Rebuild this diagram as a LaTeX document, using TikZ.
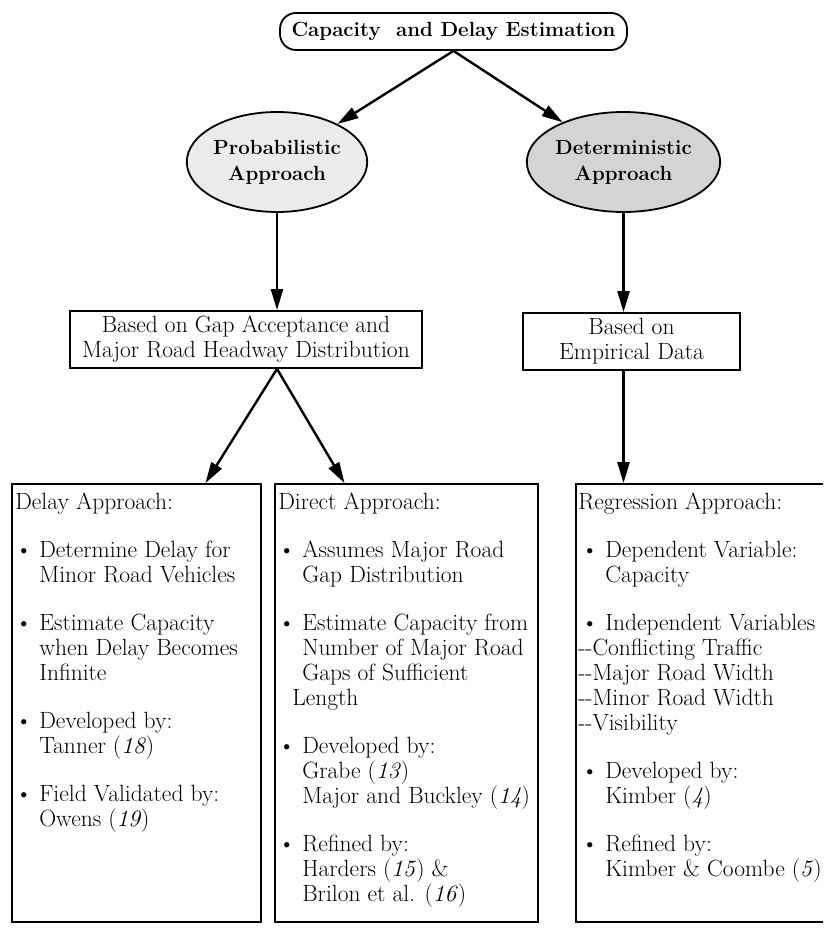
\documentclass[tikz,border=0pt]{standalone}
\usepackage{amsmath, amssymb}
\usetikzlibrary{shapes,arrows.meta,positioning,calc}

\newcommand{\bpt}{\textbullet\ }
\newcommand{\bind}{\phantom{\textbullet\ }}

\tikzset{
  arr/.style={-{Triangle[length=21pt,width=12pt]}, line width=2.4pt},
  frame/.style={draw, line width=1.8pt, inner sep=0pt},
  approach/.style={frame, ellipse, minimum width=174pt, minimum height=100pt,
    align=center, font=\bfseries\fontsize{20.5}{26}\selectfont},
  basis/.style={frame, rectangle, minimum height=57pt, align=center,
    font=\fontsize{23.5}{25}\selectfont},
  method/.style={frame, rectangle, minimum height=438pt},
  methodtext/.style={anchor=north west, inner sep=0pt, align=left,
    font=\fontsize{23.5}{25}\selectfont}
}

\begin{document}
\begin{tikzpicture}[x=1pt,y=-1pt]
\useasboundingbox (0,0) rectangle (823,933);
\clip (0,0) rectangle (823,933);

\node[frame, rounded corners=16pt, minimum width=347pt, minimum height=37pt,
  font=\bfseries\fontsize{20.5}{24}\selectfont] (est) at (453.5,31.5) {Capacity\ \ and Delay Estimation};

\node[approach, fill=black!8] (prob) at (277,162) {Probabilistic\\Approach};
\node[approach, fill=black!17] (det) at (623.5,162) {Deterministic\\Approach};

\node[basis, minimum width=352pt] (gapbox) at (246,339.5) {Based on Gap Acceptance and\\Major Road Headway Distribution};
\node[basis, minimum width=217pt] (empbox) at (631.5,341.5) {Based on\\Empirical Data};

\node[method, minimum width=249pt] (delaybox) at (136.5,703) {};
\node[method, minimum width=263pt] (directbox) at (406.5,703) {};
\node[method, minimum width=274pt] (regbox) at (713,703) {};

\draw[arr] (est.south) -- (prob);
\draw[arr] (est.south) -- (det);
\draw[arr] (prob.south) -- (prob.south |- gapbox.north);
\draw[arr] (det.south) -- (det.south |- empbox.north);

\coordinate (gapout) at (prob.south |- gapbox.south);
\coordinate (delayin) at ($(delaybox.north west)!0.775!(delaybox.north east)$);
\coordinate (directin) at ($(directbox.north west)!0.266!(directbox.north east)$);
\draw[arr] (gapout) -- (delayin);
\draw[arr] (gapout) -- (directin);
\draw[arr] (det.south |- empbox.south) -- (det.south |- regbox.north);

\node[methodtext] (delaytext) at ($(delaybox.north west)+(4,9.5)$) {Delay Approach:\\[23pt]
\bpt Determine Delay for\\
\bind Minor Road Vehicles\\[23pt]
\bpt Estimate Capacity\\
\bind when Delay Becomes\\
\bind Infinite\\[23pt]
\bpt Developed by:\\
\bind Tanner (\textit{18})\\[23pt]
\bpt Field Validated by:\\
\bind Owens (\textit{19})};

\node[methodtext] (directtext) at ($(directbox.north west)+(4,9.5)$) {Direct Approach:\\[23pt]
\bpt Assumes Major Road\\
\bind Gap Distribution\\[23pt]
\bpt Estimate Capacity from\\
\bind Number of Major Road\\
\bind Gaps of Sufficient\\
\hspace*{14pt}Length\\[23pt]
\bpt Developed by:\\
\bind Grabe (\textit{13})\\
\bind Major and Buckley (\textit{14})\\[23pt]
\bpt Refined by:\\
\bind Harders (\textit{15}) \&\\
\bind Brilon et al. (\textit{16})};

\node[methodtext] (regtext) at ($(regbox.north west)+(3,9.5)$) {Regression Approach:\\[23pt]
\hspace*{3pt}\bpt Dependent Variable:\\
\hspace*{3pt}\bind Capacity\\[23pt]
\hspace*{3pt}\bpt Independent Variables\\
-{}-Conflicting Traffic\\
-{}-Major Road Width\\
-{}-Minor Road Width\\
-{}-Visibility\\[23pt]
\hspace*{3pt}\bpt Developed by:\\
\hspace*{3pt}\bind Kimber (\textit{4})\\[23pt]
\hspace*{3pt}\bpt Refined by:\\
\hspace*{3pt}\bind Kimber \& Coombe (\textit{5})};
\end{tikzpicture}
\end{document}
